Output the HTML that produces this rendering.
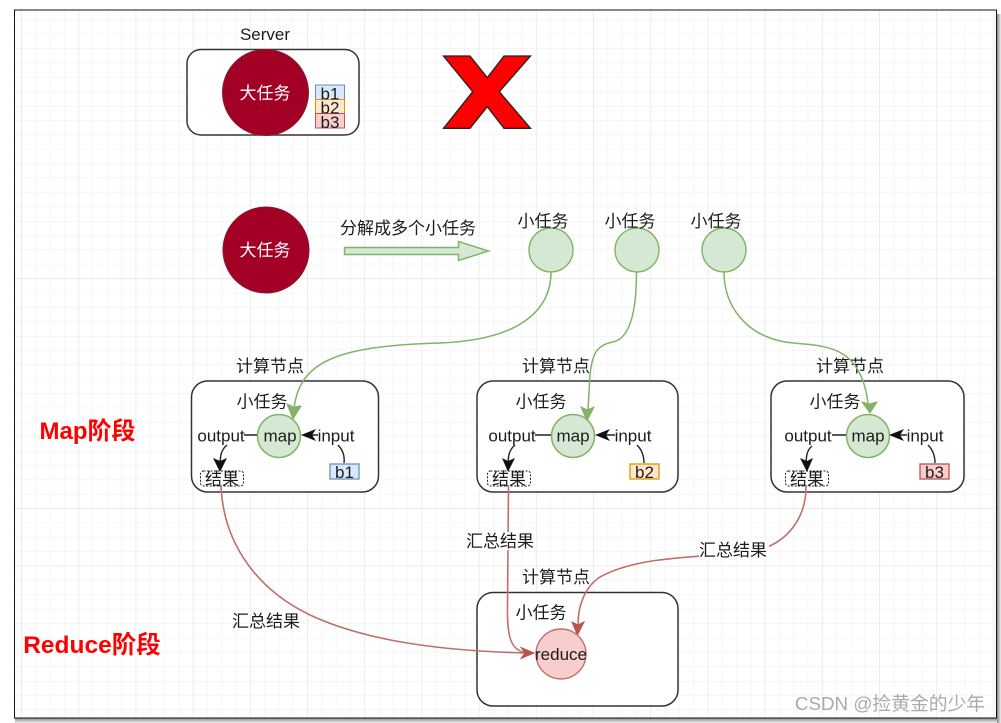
<!DOCTYPE html>
<html><head><meta charset="utf-8"><style>
html,body{margin:0;padding:0;background:#fff;width:1001px;height:723px;overflow:hidden}
text{font-family:"Liberation Sans","Noto Sans CJK SC",sans-serif;font-size:17px;fill:#1c1c1c;text-anchor:middle}
</style></head><body>
<svg width="1001" height="723" viewBox="0 0 1001 723" xmlns="http://www.w3.org/2000/svg" style="display:block">
<defs>
<pattern id="g" x="21" y="-9.5" width="57.2" height="57.5" patternUnits="userSpaceOnUse">
<path d="M0.5 0V57.5M14.8 0V57.5M29.1 0V57.5M43.4 0V57.5M0 0.5H57.2M0 14.9H57.2M0 29.3H57.2M0 43.6H57.2" stroke="#f6f6f6" fill="none"/>
<path d="M0.5 0V57.5M0 0.5H57.2" stroke="#ececec" fill="none"/>
</pattern>
<linearGradient id="sb" x1="0" y1="0" x2="0" y2="1"><stop offset="0" stop-color="#888"/><stop offset="1" stop-color="#eee"/></linearGradient>
<linearGradient id="sr" x1="0" y1="0" x2="1" y2="0"><stop offset="0" stop-color="#888"/><stop offset="1" stop-color="#eee"/></linearGradient>
</defs>
<rect x="15" y="718" width="983" height="5" fill="url(#sb)"/>
<rect x="997" y="14" width="4" height="709" fill="url(#sr)"/>
<rect x="14.5" y="10" width="982" height="708" fill="#fff"/>
<rect x="14.5" y="10" width="982" height="708" fill="url(#g)"/>
<rect x="14.5" y="10" width="982" height="708" fill="none" stroke="#111" stroke-width="1"/>

<text x="265" y="40">Server</text>
<rect x="187" y="49.5" width="172" height="85.5" rx="14" fill="#fff" stroke="#333" stroke-width="1.5"/>
<circle cx="265.500" cy="92.500" r="43" fill="#a20025" stroke="#8a1a30"/>
<text x="265" y="99" style="fill:#fff">大任务</text>
<rect x="315.500" y="85" width="29" height="14.500" fill="#dae8fc" stroke="#6c8ebf"/>
<rect x="315.500" y="99.500" width="29" height="14" fill="#ffe6cc" stroke="#d79b00"/>
<rect x="315.500" y="113.500" width="29" height="14.500" fill="#f8cecc" stroke="#b85450"/>
<text x="330" y="99.500">b1</text><text x="330" y="113.500">b2</text><text x="330" y="128">b3</text>
<polygon points="443.500,56 470,56 487.300,77.700 504,56 530.500,56 499.300,91.700 530.500,128.300 504,128.300 487.300,106.700 470,128.300 443.500,128.300 472.700,91.700" fill="#f00" stroke="#222" stroke-width="1.300"/>

<circle cx="266" cy="250" r="43" fill="#a20025" stroke="#8a1a30"/>
<text x="265" y="256" style="fill:#fff">大任务</text>
<text x="408" y="234">分解成多个小任务</text>
<polygon points="344.500,247.500 458.500,247.500 458.500,241.500 488.500,251 458.500,260.500 458.500,254.500 344.500,254.500" fill="#d5e8d4" stroke="#82b366" stroke-width="1.500"/>
<circle cx="551" cy="250" r="22" fill="#d5e8d4" stroke="#82b366" stroke-width="1.400"/>
<circle cx="637" cy="250" r="22" fill="#d5e8d4" stroke="#82b366" stroke-width="1.400"/>
<circle cx="724" cy="250" r="22" fill="#d5e8d4" stroke="#82b366" stroke-width="1.400"/>
<text x="543" y="227">小任务</text><text x="630" y="227">小任务</text><text x="716" y="227">小任务</text>

<g fill="#fff" stroke="#333" stroke-width="1.500">
<rect x="191.500" y="381" width="187" height="111" rx="16"/>
<rect x="477" y="381" width="201" height="111" rx="16"/>
<rect x="771" y="381" width="193" height="111" rx="16"/>
<rect x="477" y="592.500" width="201" height="113.500" rx="16"/>
</g>
<text x="270" y="372">计算节点</text><text x="556" y="372">计算节点</text><text x="850" y="372">计算节点</text><text x="556" y="583">计算节点</text>
<text x="262" y="407.500">小任务</text><text x="541" y="407.500">小任务</text><text x="835" y="407.500">小任务</text><text x="541" y="618.500">小任务</text>

<g fill="none" stroke="#82b366" stroke-width="1.500">
<path d="M551 272C551 310 520 340 440 343C340 346 300 360 294 408"/>
<path d="M636.500 272C636.500 305 632 338 613 342C596 345 592 355 590 375L588 410"/>
<path d="M724 272C724 305 745 335 785 342C820 347 860 340 868 403"/>
</g>
<g fill="#82b366" stroke="#82b366">
<polygon points="293,419 287,404 293.500,407 301,406"/>
<polygon points="587,421 581,407 587.500,410 594,407"/>
<polygon points="870,413 862,402 869.500,404 877,402"/>
</g>

<g fill="#d5e8d4" stroke="#82b366" stroke-width="1.500">
<circle cx="279" cy="436" r="21.500"/><circle cx="573" cy="436" r="21.500"/><circle cx="868" cy="436" r="21.500"/>
</g>
<text x="280" y="441.500">map</text><text x="573" y="441.500">map</text><text x="868" y="441.500">map</text>

<g fill="none" stroke="#222" stroke-width="1.400">
<path d="M244 435H257M312 435H318M338 445C342 449 345 455 344 463M227 445C221 450 220 456 220 466"/>
<path d="M535 435H551M606 435H615M637 445C642 450 644 456 644 463M515 445C509 450 508 456 508 466"/>
<path d="M832 435H846M900 435H907M928 445C933 450 935 456 935 463M812 446C807 450 806 456 806 466"/>
</g>
<g fill="#111">
<polygon points="301,435 316,429 312,435 316,441"/>
<polygon points="595,435 610,429 606,435 610,441"/>
<polygon points="889,435 904,429 900,435 904,441"/>
<polygon points="220,472 213,458 220,461 227,458"/>
<polygon points="508,472 502,458 508,461 515,458"/>
<polygon points="807,472 800,458 807,461 813,458"/>
</g>
<text x="221" y="441.500">output</text><text x="336" y="441.500">input</text>
<text x="512" y="441.500">output</text><text x="633" y="441.500">input</text>
<text x="808" y="441.500">output</text><text x="925" y="441.500">input</text>

<g stroke-dasharray="2 1.500" stroke="#222" fill="#fff">
<rect x="200.500" y="471" width="43" height="15" rx="3"/>
<rect x="487.500" y="471" width="43" height="15" rx="3"/>
<rect x="785.500" y="471" width="43" height="15" rx="3"/>
</g>
<text x="222" y="485">结果</text><text x="509" y="485">结果</text><text x="807" y="485">结果</text>

<rect x="330" y="464" width="29" height="15" fill="#dae8fc" stroke="#6c8ebf" stroke-width="1.300"/>
<rect x="630" y="464" width="29" height="15" fill="#ffe6cc" stroke="#d79b00" stroke-width="1.300"/>
<rect x="920" y="464" width="29" height="15" fill="#f8cecc" stroke="#b85450" stroke-width="1.300"/>
<text x="344.500" y="478">b1</text><text x="644.500" y="478">b2</text><text x="934.500" y="478">b3</text>

<g fill="none" stroke="#c0706c" stroke-width="1.600">
<path d="M221 487C224 545 258 590 310 615C370 643 450 651 525 653"/>
<path d="M508.500 487L507.500 605C507 635 510 650 525 652.500"/>
<path d="M806 487C806 515 790 545 750 552C700 558 640 555 600 577C585 587 578 605 578 625"/>
</g>
<g fill="#b85450" stroke="#b85450">
<polygon points="534,653 521,647.500 525,653 521,658.500"/>
<polygon points="577.500,635 572,622 578,625 584,622"/>
</g>
<circle cx="561" cy="654" r="25" fill="#f8cecc" stroke="#c0706c" stroke-width="1.400"/>
<text x="561" y="660">reduce</text>

<rect x="466" y="532" width="70" height="18" fill="#fff"/>
<rect x="699" y="541" width="70" height="18" fill="#fff"/>
<text x="500" y="547">汇总结果</text>
<text x="733" y="556">汇总结果</text>
<text x="266" y="627">汇总结果</text>

<text x="87.500" y="439" style="font-size:24px;font-weight:bold;fill:#f00">Map阶段</text>
<text x="92" y="653" style="font-size:24.500px;font-weight:bold;fill:#f00">Reduce阶段</text>
<text x="890" y="710" style="font-size:18.800px;fill:#aaa">CSDN @捡黄金的少年</text>
</svg>
</body></html>
